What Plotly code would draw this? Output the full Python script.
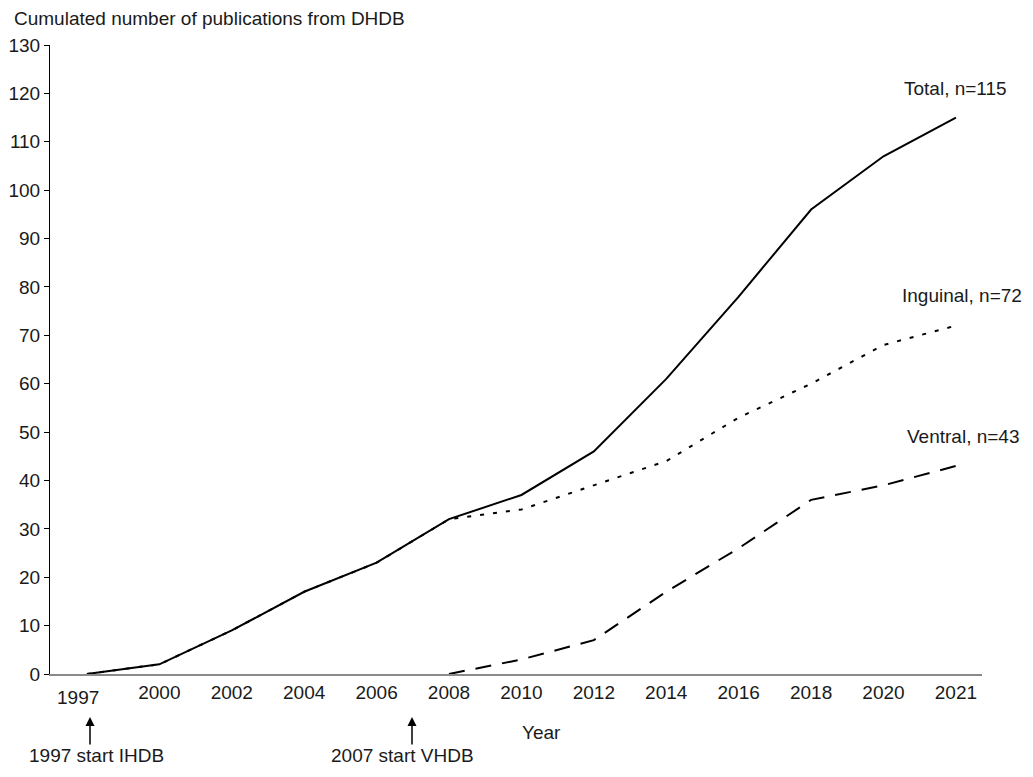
import plotly.graph_objects as go

years = ["1997", "2000", "2002", "2004", "2006", "2008", "2010", "2012", "2014", "2016", "2018", "2020", "2021"]
total = [0, 2, 9, 17, 23, 32, 37, 46, 61, 78, 96, 107, 115]
inguinal = [0, 2, 9, 17, 23, 32, 34, 39, 44, 53, 60, 68, 72]
ventral = [None, None, None, None, None, 0, 3, 7, 17, 26, 36, 39, 43]
y_ticks = list(range(0, 131, 10))

idx = list(range(len(years)))
FONT = "Liberation Sans, Arial, sans-serif"
TXT = "#1a1a1a"
FS = 19

# page body has an 8px margin; plot area on screen: x 50..982, y 45..674
def px(sx):
    return (sx - 50) / 932

def py(sy):
    return (674 - sy) / 629

def txt(text, sx, sy, xanchor="center", yanchor="middle"):
    return dict(text=text, xref="paper", yref="paper", x=px(sx), y=py(sy),
                xanchor=xanchor, yanchor=yanchor, showarrow=False,
                font=dict(size=FS, color=TXT))

fig = go.Figure()
fig.add_trace(go.Scatter(x=idx, y=inguinal, mode="lines",
                         line=dict(color="black", width=2, dash="4px,9px"), showlegend=False))
fig.add_trace(go.Scatter(x=idx, y=ventral, mode="lines",
                         line=dict(color="black", width=2, dash="16px,11px"), showlegend=False))
fig.add_trace(go.Scatter(x=idx, y=total, mode="lines",
                         line=dict(color="black", width=2), showlegend=False))

annotations = [
    txt("Cumulated number of publications from DHDB", 12, 19, "left"),
    txt("Year", 541, 732),
    txt("Total, n=115", 1009, 88, "right"),
    txt("Inguinal, n=72", 1024, 295, "right"),
    txt("Ventral, n=43", 1022, 436, "right"),
    txt(years[0], 78, 697),
    txt("1997 start IHDB", 96, 768, yanchor="bottom"),
    txt("2007 start VHDB", 402, 768, yanchor="bottom"),
    dict(text="", xref="paper", yref="paper", x=px(90), y=py(717),
         ax=0, ay=29, showarrow=True, arrowhead=2, arrowsize=1.2, arrowwidth=1.5, arrowcolor="black"),
    dict(text="", xref="paper", yref="paper", x=px(412), y=py(717),
         ax=0, ay=29, showarrow=True, arrowhead=2, arrowsize=1.2, arrowwidth=1.5, arrowcolor="black"),
]

ticktext = [""] + years[1:]

fig.update_layout(
    width=1017, height=761,
    margin=dict(l=42, r=43, t=37, b=95, autoexpand=False),
    paper_bgcolor="white", plot_bgcolor="white",
    font=dict(family=FONT, size=FS, color=TXT),
    annotations=annotations,
    xaxis=dict(range=[-0.51, 12.36], tickvals=idx, ticktext=ticktext, showgrid=False, zeroline=False,
               showline=True, linecolor="#8a8a8a", linewidth=1.5, ticks="", ticklen=0,
               automargin=False, tickfont=dict(size=FS, color=TXT)),
    yaxis=dict(range=[0, 130], tickvals=y_ticks, showgrid=False, zeroline=False,
               showline=True, linecolor="black", linewidth=1, ticks="outside", ticklen=5,
               automargin=False, tickcolor="black", tickfont=dict(size=FS, color=TXT)),
)

fig.write_html("out.html")
